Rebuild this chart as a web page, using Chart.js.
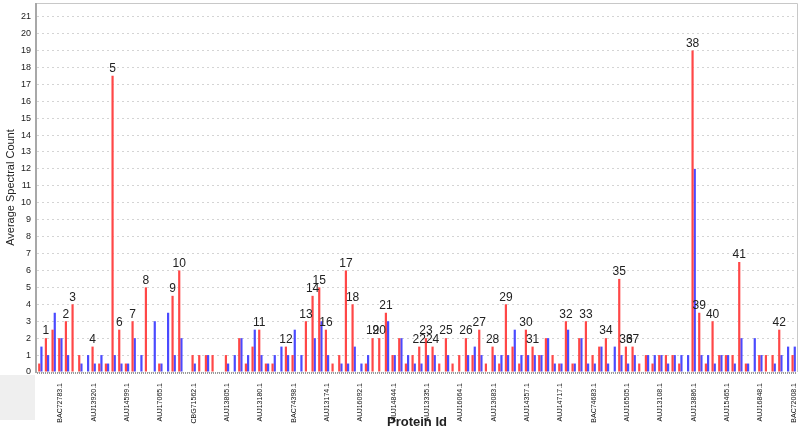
<!DOCTYPE html>
<html>
<head>
<meta charset="utf-8">
<script src="https://cdn.jsdelivr.net/npm/chart.js@4/dist/chart.umd.min.js"></script>
<style>
  html, body { margin: 0; padding: 0; background: #fff; }
  #wrap { width: 800px; height: 430px; }
</style>
</head>
<body>
<div id="wrap"><canvas id="protein_chart" width="800" height="430"></canvas></div>
<script>
// every 5th protein id is printed under the axis, starting at index 3
const labelIds = [
  "BAC72783.1", "AUJ13920.1", "AUJ14599.1", "AUJ17065.1", "CBG71562.1",
  "AUJ13805.1", "AUJ13180.1", "BAC74398.1", "AUJ13174.1", "AUJ16092.1",
  "AUJ14844.1", "AUJ13335.1", "AUJ16064.1", "AUJ13083.1", "AUJ14357.1",
  "AUJ14717.1", "BAC74683.1", "AUJ16505.1", "AUJ13108.1", "AUJ13886.1",
  "AUJ15465.1", "AUJ16848.1", "BAC72008.1",
];

const redCounts = [
  0.5, 2, 2.5, 2, 3, 4, 1, 0, 1.5, 0.5,
  0.5, 17.5, 2.5, 0.5, 3, 0, 5, 0, 0.5, 0,
  4.5, 6, 0, 1, 1, 1, 1, 0, 1, 0,
  2, 0.5, 1.5, 2.5, 0.5, 0.5, 0, 1.5, 1, 0,
  3, 4.5, 5, 2.5, 0.5, 1, 6, 4, 0, 0.5,
  2, 2, 3.5, 1, 2, 0.5, 1, 1.5, 2, 1.5,
  0.5, 2, 0.5, 1, 2, 1, 2.5, 0.5, 1.5, 0.5,
  4, 1.5, 0.5, 2.5, 1.5, 1, 2, 1, 0.5, 3,
  0.5, 2, 3, 1, 1.5, 2, 0, 5.5, 1.5, 1.5,
  0.5, 1, 0.5, 1, 1, 1, 0.5, 0, 19, 3.5,
  0.5, 3, 1, 1, 1, 6.5, 0.5, 0, 1, 1,
  1, 2.5, 0, 1,
];

const blueCounts = [
  1.5, 1, 3.5, 2, 1, 0, 0.5, 1, 0.5, 1,
  0.5, 1, 0.5, 0.5, 2, 1, 0, 3, 0.5, 3.5,
  1, 2, 0, 0.5, 0, 1, 0, 0, 0.5, 1,
  2, 1, 2.5, 1, 0.5, 1, 1.5, 1, 2.5, 1,
  0, 2, 3, 1, 0, 0.5, 0.5, 1.5, 0.5, 1,
  0, 0, 3, 1, 2, 1, 0.5, 0.5, 1, 1,
  0, 1, 0, 0, 1, 1.5, 1, 0, 1, 1,
  1, 2.5, 1, 1, 1, 1, 2, 0.5, 0.5, 2.5,
  0.5, 2, 0.5, 0.5, 1.5, 0.5, 1.5, 1, 0.5, 1,
  0, 1, 1, 1, 0.5, 1, 1, 1, 12, 1,
  1, 0.5, 1, 1, 0.5, 2, 0.5, 2, 1, 0,
  0.5, 1, 1.5, 1.5,
];

// index of the red bar that carries each number 1..42
const markedBars = [
  1, 4, 5, 8, 11, 12, 14, 16, 20, 21,
  33, 37, 40, 41, 42, 43, 46, 47, 50, 51,
  52, 57, 58, 59, 61, 64, 66, 68, 70, 73,
  74, 79, 82, 85, 87, 88, 89, 98, 99, 101,
  105, 111,
];

let categories = redCounts.map((_, i) =>
  i % 5 == 3 ? labelIds[(i - 3) / 5] : "#" + i
);

const framePlugin = {
  id: "frame",
  beforeDraw(chart) {
    let ctx = chart.ctx;
    ctx.save();
    ctx.fillStyle = "#efefef";
    ctx.fillRect(0, 375, 35, 45);
    ctx.restore();
  },
  afterDatasetsDraw(chart) {
    let ctx = chart.ctx;
    let a = chart.chartArea;
    ctx.save();
    ctx.strokeStyle = "#c8c8c8";
    ctx.lineWidth = 1;
    ctx.beginPath();
    ctx.moveTo(a.left, a.top + 0.5);
    ctx.lineTo(a.right + 0.5, a.top + 0.5);
    ctx.lineTo(a.right + 0.5, a.bottom);
    ctx.stroke();

    ctx.strokeStyle = "#a8a8a8";
    ctx.lineWidth = 2;
    ctx.beginPath();
    ctx.moveTo(a.left - 1, a.top);
    ctx.lineTo(a.left - 1, a.bottom + 1);
    ctx.stroke();

    ctx.strokeStyle = "#9a9a9a";
    ctx.lineWidth = 2;
    ctx.setLineDash([1, 1]);
    ctx.beginPath();
    ctx.moveTo(a.left, a.bottom + 1);
    ctx.lineTo(a.right, a.bottom + 1);
    ctx.stroke();

    // numbers over the marked red bars
    let bars = chart.getDatasetMeta(0).data;
    ctx.setLineDash([]);
    ctx.fillStyle = "#222";
    ctx.font = "12px 'Liberation Sans', Arial, sans-serif";
    ctx.textAlign = "center";
    ctx.textBaseline = "bottom";
    markedBars.forEach((idx, n) => {
      let bar = bars[idx];
      ctx.fillText(String(n + 1), bar.x, bar.y - 1);
    });
    ctx.restore();
  },
};

let ctx = document.getElementById("protein_chart").getContext("2d");

let myChart = new Chart(ctx, {
  type: "bar",
  data: {
    labels: categories,
    datasets: [
      {
        label: "red",
        data: redCounts,
        backgroundColor: "#ff4747",
        categoryPercentage: 0.66,
        barPercentage: 1,
      },
      {
        label: "blue",
        data: blueCounts,
        backgroundColor: "#4a4aff",
        categoryPercentage: 0.66,
        barPercentage: 1,
      },
    ],
  },
  plugins: [framePlugin],
  options: {
    responsive: false,
    animation: false,
    layout: { padding: { top: 3, right: 3, left: 0, bottom: 0 } },
    plugins: {
      legend: { display: false },
      tooltip: { enabled: false },
    },
    scales: {
      x: {
        grid: { display: false },
        border: { display: false },
        ticks: {
          autoSkip: false,
          minRotation: 90,
          maxRotation: 90,
          padding: 3,
          color: "#111",
          font: { family: "'Liberation Sans', Arial, sans-serif", size: 7 },
          callback: function (value, index) {
            let name = this.getLabelForValue(value);
            return name.charAt(0) == "#" ? "" : name;
          },
        },
        title: {
          display: true,
          text: "Protein Id",
          color: "#222",
          padding: { top: 0, bottom: 0 },
          font: {
            family: "'Liberation Sans', Arial, sans-serif",
            size: 13,
            weight: "bold",
          },
        },
        afterFit: (scale) => {
          scale.height = 58;
          scale.paddingLeft = 0;
          scale.paddingRight = 0;
        },
      },
      y: {
        min: 0,
        max: 21.8,
        grid: { color: "#d4d4d4", drawTicks: false },
        border: { display: false, dash: [2, 3] },
        ticks: {
          stepSize: 1,
          padding: 6,
          color: "#222",
          font: { family: "'Liberation Sans', Arial, sans-serif", size: 9 },
          callback: (v) => (Number.isInteger(v) ? v : ""),
        },
        title: {
          display: true,
          text: "Average Spectral Count",
          color: "#222",
          padding: { top: 4, bottom: 2 },
          font: { family: "'Liberation Sans', Arial, sans-serif", size: 11 },
        },
        afterFit: (scale) => {
          scale.width = 37;
          scale.paddingTop = 0;
          scale.paddingBottom = 0;
        },
      },
    },
  },
});
</script>
</body>
</html>
